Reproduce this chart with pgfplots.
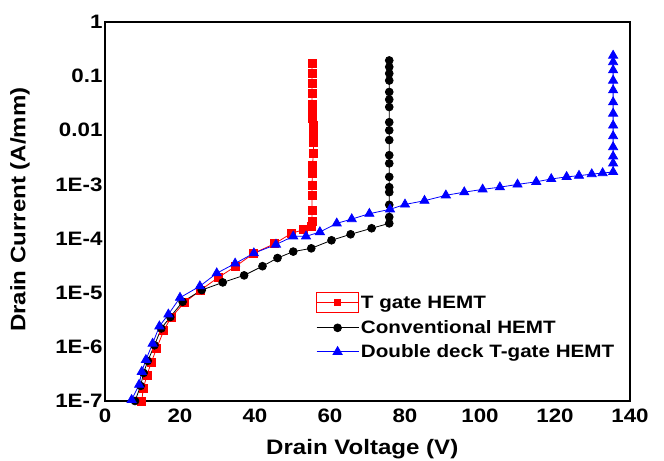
\documentclass[border=0pt]{standalone}
\usepackage{pgfplots}
\pgfplotsset{compat=1.18}
\usepackage{fontspec}
\setmainfont{Liberation Sans}
\newfontfamily\widefont[FakeStretch=1.15]{Liberation Sans}
\begin{document}
\begin{tikzpicture}
\begin{axis}[
  scale only axis, width=525bp, height=379bp,
  xmin=0, xmax=140, ymin=1e-7, ymax=1, ymode=log,
  xtick={0,20,40,60,80,100,120,140},
  ytick={1e-7,1e-6,1e-5,1e-4,1e-3,1e-2,1e-1,1},
  yticklabels={1E-7,1E-6,1E-5,1E-4,1E-3,0.01,0.1,1},
  yminorticks=false, major tick length=0pt,
  axis line style={line width=2.6bp},
  /pgf/number format/assume math mode=true,
  tick label style={font=\widefont\fontsize{19.5}{21}\selectfont\bfseries},
  xticklabel style={yshift=-4bp},
  yticklabel style={xshift=1bp},
  xlabel={Drain Voltage (V)}, ylabel={Drain Current (A/mm)},
  label style={font=\widefont\fontsize{21}{24}\selectfont\bfseries},
  xlabel style={at={(axis description cs:0.49,-0.128)}, anchor=center},
  ylabel style={at={(axis description cs:-0.162,0.505)}, anchor=center},
  legend style={at={(axis description cs:0.40,0.29)}, anchor=north west, draw=none, fill=none,
    font=\widefont\fontsize{18}{20}\selectfont\bfseries, row sep=5.5bp, inner sep=1bp},
  legend cell align=left,
  legend image code/.code={\draw[mark repeat=2,mark phase=2] plot coordinates {(0bp,0bp)(21bp,0bp)(42bp,0bp)};},
]
\addplot[red, line width=0.8bp, mark=square*, mark size=4bp,
  legend image code/.code={\draw[red,line width=0.8bp,mark=none] (0bp,-10bp) rectangle (42bp,10bp);
    \draw[mark repeat=2,mark phase=2,mark size=3.2bp] plot coordinates {(0bp,0bp)(21bp,0bp)(42bp,0bp)};}]
coordinates {
(9.8,1.0e-7)(10.2,1.7e-7)(11.2,3.0e-7)(12.3,5.1e-7)(13.8,9.5e-7)(15.7,2.04e-6)(17.6,3.47e-6)
(21.1,6.5e-6)(25.5,1.12e-5)(30.2,1.91e-5)(34.9,3.09e-5)(39.7,5.37e-5)(45.3,8.1e-5)(49.8,1.26e-4)
(52.9,1.45e-4)(55.0,1.66e-4)(55.2,2.04e-4)(55.2,3.3e-4)(55.2,6.3e-4)(55.2,9.8e-4)(55.3,1.58e-3)
(55.3,2.24e-3)(55.6,3.7e-3)(55.6,6.0e-3)(55.6,8.7e-3)(55.6,1.23e-2)(55.4,1.66e-2)(55.2,2.19e-2)
(55.2,2.95e-2)(55.2,4.8e-2)(55.2,7.2e-2)(55.2,0.112)(55.2,0.17)
};
\addlegendentry{T gate HEMT}
\addplot[black, line width=0.8bp, mark=*, mark size=3.9bp] coordinates {
(8.0,1.0e-7)(9.5,1.9e-7)(10.3,3.3e-7)(11.4,5.5e-7)(13.2,1.07e-6)(15.0,2.19e-6)(17.4,3.55e-6)
(20.7,6.8e-6)(25.8,1.12e-5)(31.4,1.55e-5)(37.1,2.09e-5)(42.0,3.09e-5)(46.0,4.37e-5)(50.2,5.75e-5)
(55.0,6.6e-5)(60.4,9.3e-5)(65.5,1.2e-4)(71.1,1.55e-4)(75.8,1.91e-4)(75.8,2.5e-4)(75.8,4.2e-4)
(75.8,7.2e-4)(75.8,8.9e-4)(75.8,1.38e-3)(75.8,2.45e-3)(75.8,3.47e-3)(75.8,6.6e-3)(75.8,1.0e-2)
(75.8,1.41e-2)(75.8,2.69e-2)(75.8,3.7e-2)(75.8,5.1e-2)(75.8,8.3e-2)(75.8,0.112)(75.8,0.148)(75.8,0.195)
};
\addlegendentry{Conventional HEMT}
\addplot[blue, line width=0.8bp, mark=triangle*, mark size=5.2bp] coordinates {
(7.1,1.05e-7)(9.1,2.0e-7)(9.8,3.47e-7)(10.9,5.75e-7)(12.7,1.15e-6)(14.5,2.4e-6)(16.9,3.98e-6)
(20.0,8.1e-6)(25.3,1.32e-5)(29.8,2.29e-5)(34.7,3.47e-5)(39.7,5.37e-5)(45.6,7.76e-5)(50.2,1.10e-4)
(53.6,1.10e-4)(57.3,1.32e-4)(61.8,1.91e-4)(65.8,2.29e-4)(70.5,2.88e-4)(76.0,3.47e-4)(80.0,4.27e-4)
(85.2,5.0e-4)(90.9,6.3e-4)(95.8,7.2e-4)(100.7,8.1e-4)(105.3,8.9e-4)(110.0,1.0e-3)(115.0,1.12e-3)
(119.0,1.26e-3)(123.1,1.38e-3)(126.4,1.45e-3)(129.8,1.55e-3)(132.7,1.62e-3)(135.5,1.70e-3)
(135.5,2.45e-3)(135.5,3.3e-3)(135.5,4.9e-3)(135.5,7.8e-3)(135.5,1.23e-2)(135.5,2.04e-2)(135.5,3.3e-2)
(135.5,5.5e-2)(135.5,8.3e-2)(135.5,0.129)(135.5,0.182)(135.5,0.24)
};
\addlegendentry{Double deck T-gate HEMT}
\coordinate (sw) at (rel axis cs:0,0);
\end{axis}
\pgfresetboundingbox
\useasboundingbox (sw) ++(-105bp,-60bp) rectangle ++(664bp,461bp);
\end{tikzpicture}
\end{document}
